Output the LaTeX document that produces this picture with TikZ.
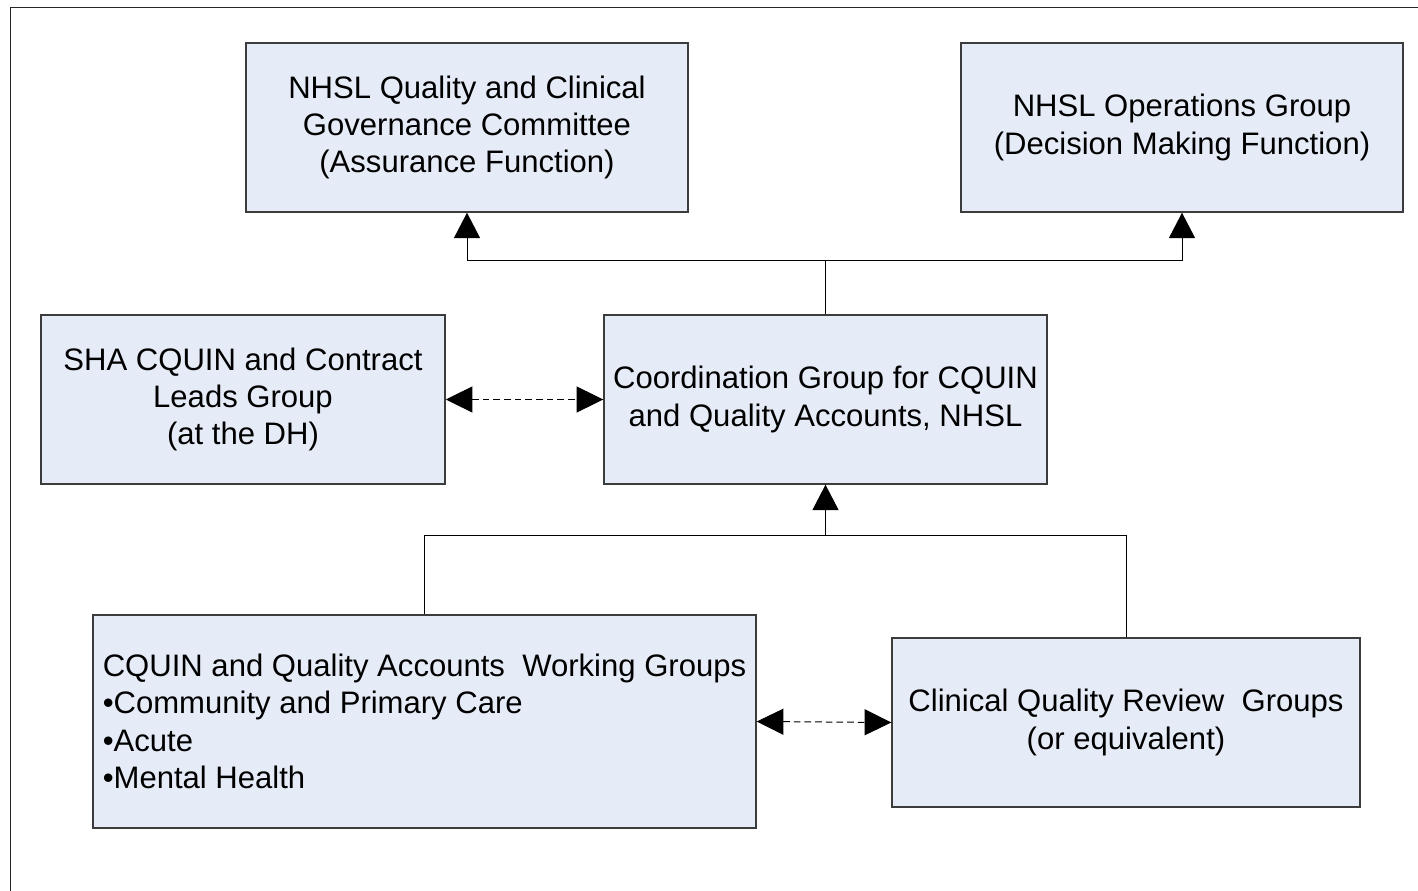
\documentclass[tikz,border=0pt]{standalone}
\usepackage{fontspec}
\setmainfont{Liberation Sans}
\usetikzlibrary{arrows.meta}
\definecolor{boxfill}{RGB}{230,236,247}
\definecolor{boxline}{RGB}{60,60,60}
\tikzset{
  box/.style={draw=boxline, line width=1.1pt, fill=boxfill, inner sep=0pt, align=center,
    font=\fontsize{23.3}{28}\selectfont, text=black},
  link/.style={draw=black, line width=0.75pt},
  tri/.style={-{Triangle[width=19.5pt,length=19pt]}},
  dtri/.style={{Triangle[width=19.5pt,length=20pt]}-{Triangle[width=19.5pt,length=20pt]}, dash pattern=on 5pt off 3pt}
}
\begin{document}
\begin{tikzpicture}[x=0.75pt,y=-0.75pt]
\useasboundingbox (0,0) rectangle (1418,891);
\draw[line width=1.1pt, black!85] (10.5,891) -- (10.5,7.5) -- (1418,7.5);
\node[box, minimum width=331.5pt, minimum height=126.75pt] (A) at (467,127.5)
  {NHSL Quality and Clinical\\Governance Committee\\(Assurance Function)};
\node[box, minimum width=331.5pt, minimum height=126.75pt] (B) at (1182,127.5)
  {NHSL Operations Group\\(Decision Making Function)};
\node[box, minimum width=303pt, minimum height=126.75pt] (C) at (243,399.5)
  {SHA CQUIN and Contract\\Leads Group\\(at the DH)};
\node[box, minimum width=332.25pt, minimum height=126.75pt] (D) at (825.5,399.5)
  {Coordination Group for CQUIN\\and Quality Accounts, NHSL};
\node[box, align=left, minimum width=497.25pt, minimum height=159.75pt] (E) at (424.5,721.5)
  {CQUIN and Quality Accounts\ \ Working Groups\\•Community and Primary Care\\•Acute\\•Mental Health};
\node[box, minimum width=351pt, minimum height=126.75pt] (F) at (1126,722.5)
  {Clinical Quality Review\ \ Groups\\(or equivalent)};
\coordinate (j1) at (825.5,261);
\coordinate (j2) at (825.5,535);
\draw[link] (D.north) -- (j1);
\draw[link, tri] (j1) -| (A.south);
\draw[link, tri] (j1) -| (B.south);
\draw[link, tri] (j2) -- (D.south);
\draw[link] (E.north) |- (j2);
\draw[link] (F.north) |- (j2);
\draw[link, dtri] (C.east) -- (D.west);
\draw[link, dtri] (E.east) -- (F.west);
\end{tikzpicture}
\end{document}
